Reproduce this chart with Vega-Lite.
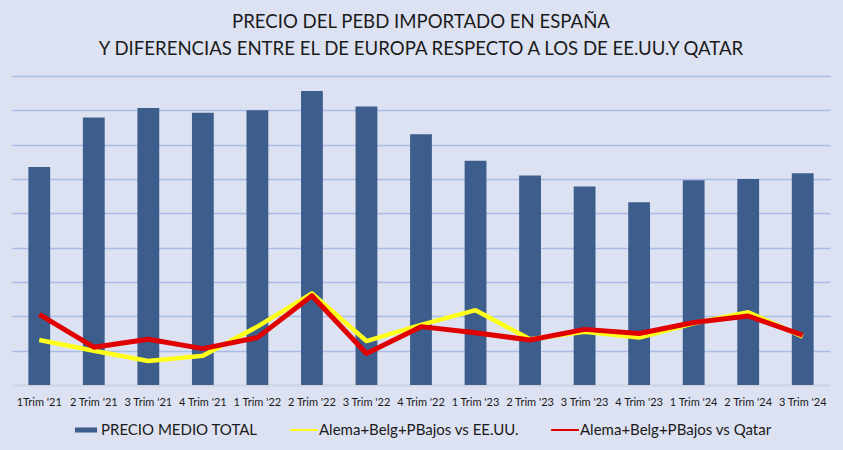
{
  "$schema": "https://vega.github.io/schema/vega-lite/v6.json",
  "width": 818,
  "height": 309,
  "autosize": {"type": "none"},
  "padding": {"left": 12, "top": 76, "right": 13, "bottom": 65},
  "background": "#DDE2F2",
  "title": {
    "text": ["PRECIO DEL PEBD IMPORTADO EN ESPAÑA", "Y DIFERENCIAS ENTRE EL DE EUROPA RESPECTO A LOS DE EE.UU.Y QATAR"],
    "font": "Lato",
    "fontSize": 18.6,
    "fontWeight": "normal",
    "color": "#1a1a1a",
    "lineHeight": 27,
    "anchor": "middle",
    "frame": "group",
    "offset": 17
  },
  "config": {
    "view": {"stroke": null},
    "font": "Lato",
    "axisY": {
      "values": [1, 2, 3, 4, 5, 6, 7, 8, 9],
      "labels": false,
      "ticks": false,
      "domain": false,
      "grid": true,
      "gridColor": "#A9BBE6",
      "gridWidth": 1.5,
      "gridOpacity": 1,
      "title": null
    }
  },
  "data": {
    "values": [
      {"q": "1Trim '21", "precio": 6.35, "usa": 1.31, "qatar": 2.06},
      {"q": "2 Trim '21", "precio": 7.79, "usa": 1.00, "qatar": 1.10},
      {"q": "3 Trim '21", "precio": 8.07, "usa": 0.70, "qatar": 1.33},
      {"q": "4 Trim '21", "precio": 7.93, "usa": 0.85, "qatar": 1.06},
      {"q": "1 Trim '22", "precio": 8.00, "usa": 1.70, "qatar": 1.38},
      {"q": "2 Trim '22", "precio": 8.56, "usa": 2.67, "qatar": 2.60},
      {"q": "3 Trim '22", "precio": 8.11, "usa": 1.28, "qatar": 0.92},
      {"q": "4 Trim '22", "precio": 7.30, "usa": 1.75, "qatar": 1.70},
      {"q": "1 Trim '23", "precio": 6.53, "usa": 2.18, "qatar": 1.52},
      {"q": "2 Trim '23", "precio": 6.10, "usa": 1.33, "qatar": 1.31},
      {"q": "3 Trim '23", "precio": 5.78, "usa": 1.55, "qatar": 1.62},
      {"q": "4 Trim '23", "precio": 5.32, "usa": 1.38, "qatar": 1.50},
      {"q": "1 Trim '24", "precio": 5.96, "usa": 1.80, "qatar": 1.82},
      {"q": "2 Trim '24", "precio": 6.00, "usa": 2.12, "qatar": 2.01},
      {"q": "3 Trim '24", "precio": 6.17, "usa": 1.41, "qatar": 1.45}
    ]
  },
  "encoding": {
    "x": {
      "field": "q",
      "type": "nominal",
      "sort": null,
      "title": null,
      "scale": {"paddingInner": 0.6, "paddingOuter": 0.3},
      "axis": {
        "labelAngle": 0,
        "labelFont": "Lato",
        "labelFontSize": 11,
        "labelColor": "#1a1a1a",
        "labelPadding": 11,
        "ticks": false,
        "domain": true,
        "domainColor": "#D4D6DC",
        "domainWidth": 1.5,
        "grid": false
      }
    }
  },
  "layer": [
    {
      "mark": {"type": "bar", "opacity": 1},
      "encoding": {
        "y": {
          "field": "precio",
          "type": "quantitative",
          "title": null,
          "scale": {"domain": [0, 9], "nice": false}
        },
        "color": {"datum": "PRECIO MEDIO TOTAL"}
      }
    },
    {
      "mark": {"type": "line", "strokeWidth": 4.5, "strokeJoin": "round"},
      "encoding": {
        "y": {"field": "usa", "type": "quantitative"},
        "color": {"datum": "Alema+Belg+PBajos vs EE.UU."}
      }
    },
    {
      "mark": {"type": "line", "strokeWidth": 5, "strokeJoin": "round"},
      "encoding": {
        "y": {"field": "qatar", "type": "quantitative"},
        "color": {
          "datum": "Alema+Belg+PBajos vs Qatar",
          "scale": {
            "domain": ["PRECIO MEDIO TOTAL", "Alema+Belg+PBajos vs EE.UU.", "Alema+Belg+PBajos vs Qatar"],
            "range": ["#3D5E8C", "#FFFF1A", "#E00000"]
          },
          "legend": {
            "title": null,
            "orient": "none",
            "legendX": 60,
            "legendY": 340,
            "direction": "horizontal",
            "labelFont": "Lato",
            "labelFontSize": 15,
            "labelColor": "#1a1a1a",
            "labelLimit": 400,
            "labelOffset": 1,
            "columnPadding": 31,
            "symbolSize": 784,
            "encode": {
              "symbols": {
                "update": {
                  "shape": [
                    {"test": "datum.value === 'PRECIO MEDIO TOTAL'", "value": "M-0.79,-0.18H0.79V0.18H-0.79Z"},
                    {"value": "M-0.93,-0.08H0.93A0.08,0.08,0,0,1,0.93,0.08H-0.93A0.08,0.08,0,0,1,-0.93,-0.08Z"}
                  ],
                  "fill": {"scale": "color", "field": "value"},
                  "stroke": {"value": "transparent"},
                  "strokeWidth": {"value": 0},
                  "opacity": {"value": 1},
                  "fillOpacity": {"value": 1}
                }
              }
            }
          }
        }
      }
    }
  ]
}
